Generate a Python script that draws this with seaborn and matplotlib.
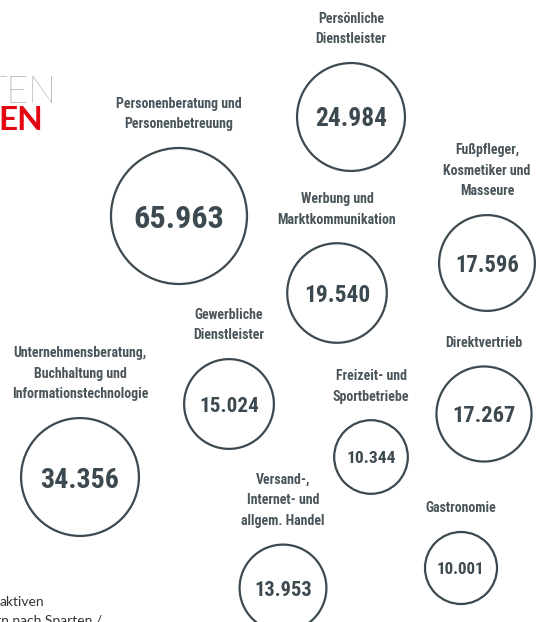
"""Mitglieder nach Sparten als Kreisdiagramm (Bubble-Infografik)."""

import matplotlib as mpl
import matplotlib.pyplot as plt
import numpy as np
import pandas as pd
import seaborn as sns
from matplotlib.colors import LogNorm

mpl.use("Agg")

# Daten
SPARTEN = [
    "Personenberatung und\nPersonenbetreuung",
    "Persönliche\nDienstleister",
    "Fußpfleger,\nKosmetiker und\nMasseure",
    "Werbung und\nMarktkommunikation",
    "Unternehmensberatung,\nBuchhaltung und\nInformationstechnologie",
    "Gewerbliche\nDienstleister",
    "Freizeit- und\nSportbetriebe",
    "Direktvertrieb",
    "Versand-,\nInternet- und\nallgem. Handel",
    "Gastronomie",
]
MITGLIEDER = [65963, 24984, 17596, 19540, 34356, 15024, 10344, 17267, 13953, 10001]

# Layout der Kreise (Bildkoordinaten in px)
POS_X = [179, 351, 487, 337, 80, 229, 371, 484, 283, 461]
POS_Y = [216, 117, 263, 293, 477, 404, 457, 414, 588, 568]

DARK = "#3d4950"
LABEL_COLOR = "#4a555b"
RED = "#e30613"
COND = ["Liberation Sans Narrow", "Roboto Condensed", "DejaVu Sans"]
W, H, DPI = 544, 622, 100

R_MIN, R_MAX = 36, 68  # Kreisradien in px
S_MIN = (2 * R_MIN * 72 / DPI) ** 2
S_MAX = (2 * R_MAX * 72 / DPI) ** 2

sns.set_theme(style="white")
plt.rcParams["font.family"] = COND


def fmt(v):
    return f"{v:,}".replace(",", ".")


def main():
    df = pd.DataFrame({"x": POS_X, "y": POS_Y, "mitglieder": MITGLIEDER,
                       "sparte": SPARTEN})

    fig = plt.figure(figsize=(W / DPI, H / DPI), dpi=DPI)
    ax = fig.add_axes([0, 0, 1, 1])
    sns.scatterplot(data=df, x="x", y="y", size="mitglieder",
                    sizes=(S_MIN, S_MAX),
                    size_norm=LogNorm(min(MITGLIEDER), max(MITGLIEDER)),
                    legend=False, ax=ax)
    coll = ax.collections[0]
    coll.set_facecolor("none")
    coll.set_edgecolor(DARK)
    coll.set_linewidth(1.6)
    ax.set_xlim(0, W)
    ax.set_ylim(H, 0)
    ax.axis("off")

    # Radius jedes Kreises in pt, aus der Größenskala
    radii = np.sqrt(coll.get_sizes()) / 2
    for (_, row), r_pt in zip(df.iterrows(), radii):
        r_px = r_pt * DPI / 72
        ax.annotate(fmt(row["mitglieder"]), (row["x"], row["y"]),
                    ha="center", va="center_baseline", color=DARK,
                    fontsize=0.34 * r_px, fontweight="bold")
        ax.annotate(row["sparte"], (row["x"], row["y"]),
                    xytext=(0, r_pt + 12), textcoords="offset points",
                    ha="center", va="bottom", color=LABEL_COLOR,
                    fontsize=10, fontweight="bold", linespacing=1.6)

    # angeschnittene Titel- und Fußtexte
    ax.text(57, 103, "TEN", ha="right", va="baseline", fontsize=27,
            fontweight="light", color="#6f6f6f", family=["Lato", "DejaVu Sans"])
    ax.text(43, 130, "EN", ha="right", va="baseline", fontsize=24,
            fontweight="bold", color=RED, family=["Lato", "DejaVu Sans"])
    ax.text(0, 606, "aktiven", ha="left", va="baseline", fontsize=10,
            color="#333333", family=["Lato", "DejaVu Sans"])
    ax.text(-4, 625, "rn nach Sparten /", ha="left", va="baseline",
            fontsize=10, color="#333333", family=["Lato", "DejaVu Sans"])

    fig.savefig("out.png", dpi=DPI)
    plt.close(fig)


if __name__ == "__main__":
    main()
